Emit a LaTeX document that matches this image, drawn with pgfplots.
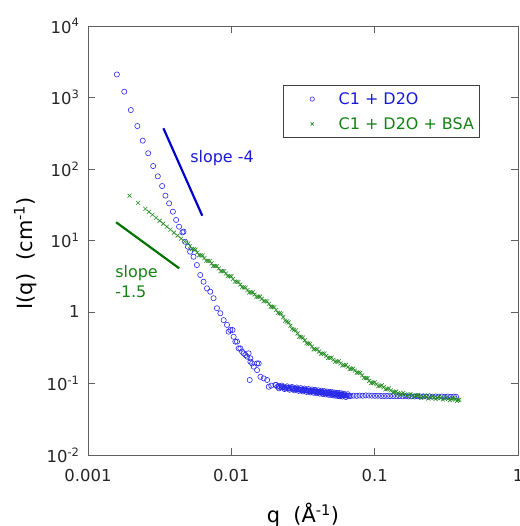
\documentclass[border=0pt]{standalone}
\usepackage{pgfplots}
\pgfplotsset{compat=1.18}
\usepackage{fontspec}
\setmainfont{DejaVu Sans}
\definecolor{cblue}{RGB}{40,40,235}
\definecolor{tblue}{RGB}{25,25,215}
\definecolor{lblue}{RGB}{0,0,205}
\definecolor{cgreen}{RGB}{35,140,35}
\definecolor{tgreen}{RGB}{20,130,20}
\definecolor{lgreen}{RGB}{0,115,0}
\definecolor{axgray}{RGB}{95,95,95}
\begin{document}
\begin{tikzpicture}
\path[use as bounding box] (-88bp,-71bp) rectangle (432bp,455bp);
\begin{axis}[
  at={(0,0)}, anchor=south west,
  scale only axis, width=430bp, height=429bp,
  xmode=log, ymode=log,
  xmin=0.001, xmax=1, ymin=0.01, ymax=10000,
  axis line style={axgray, line width=0.9pt},
  tick style={axgray, line width=0.8pt},
  major tick length=7bp,
  tick align=inside,
  xtick={0.001,0.01,0.1,1},
  xticklabels={0.001,0.01,0.1,1},
  ytick={0.01,0.1,1,10,100,1000,10000},
  yticklabels={10\textsuperscript{-2},10\textsuperscript{-1},1,10\textsuperscript{1},10\textsuperscript{2},10\textsuperscript{3},10\textsuperscript{4}},
  xminorticks=false, yminorticks=false,
  ticklabel style={font=\fontsize{16.5}{19}\selectfont, black!85},
  xticklabel style={yshift=-11bp},
  yticklabel style={xshift=-5bp},
  xlabel={q\ \ (Å\textsuperscript{-1})},
  ylabel={I(q)\ \ (cm\textsuperscript{-1})},
  label style={font=\fontsize{21}{24}\selectfont, black},
  xlabel style={at={(axis description cs:0.5,-0.14)}, anchor=center},
  ylabel style={at={(axis description cs:-0.146,0.47)}, anchor=center},
  legend style={at={(rel axis cs:0.453,0.862)}, anchor=north west,
    draw=black!75, line width=0.9pt, font=\fontsize{16}{19}\selectfont,
    inner xsep=5bp, inner ysep=7bp, row sep=12bp,
    nodes={inner sep=0.5bp, text depth=0pt}},
  legend cell align=left,
  legend image code/.code={\path[draw=none] (0bp,0bp) -- (50bp,0bp); \draw[#1, mark size=2.2bp] plot coordinates {(24bp,0bp)};},
]
\addplot[only marks, mark=o, cblue, mark size=2.6bp, line width=0.6pt]
  coordinates {
(0.00159,2100) (0.00179,1206) (0.00199,668) (0.00221,399) (0.00241,249)
(0.00263,166) (0.00285,110) (0.00307,79) (0.00329,57.8) (0.00347,42.4)
(0.00368,33.1) (0.00391,25.3) (0.00412,19.4) (0.00432,15.6) (0.00456,13.0)
(0.00464,13.3) (0.00476,9.62) (0.00498,8.2) (0.00516,6.97) (0.00545,5.93)
(0.00575,4.54) (0.00607,3.29) (0.00640,2.65) (0.00676,2.14) (0.00713,1.92)
(0.00752,1.56) (0.00794,1.13) (0.00838,0.96) (0.00884,0.77) (0.00933,0.66)
(0.00957,0.53) (0.00984,0.56) (0.0102,0.56) (0.01038,0.45) (0.01067,0.385)
(0.01096,0.385) (0.01125,0.31) (0.01156,0.31) (0.01188,0.279) (0.01219,0.264)
(0.01253,0.25) (0.01288,0.237) (0.01320,0.264) (0.01358,0.202) (0.01358,0.225)
(0.01396,0.191) (0.01433,0.172) (0.01512,0.191) (0.01512,0.154) (0.01552,0.191)
(0.01343,0.112) (0.01596,0.124) (0.01683,0.118) (0.01778,0.112) (0.01824,0.090)
(0.0190,0.0935) (0.0203,0.0953) (0.0210,0.0905) (0.0215,0.0920) (0.0220,0.0890)
(0.0226,0.0885) (0.0230,0.0895) (0.0235,0.0870) (0.0240,0.0880) (0.0245,0.0858)
(0.0250,0.0865) (0.0255,0.0850) (0.0260,0.0862) (0.0266,0.0857) (0.0270,0.0842)
(0.0275,0.0848) (0.0280,0.0830) (0.0285,0.0838) (0.0290,0.0822) (0.0295,0.0832)
(0.0300,0.0825) (0.0305,0.0812) (0.0310,0.0822) (0.0315,0.0805) (0.0320,0.0815)
(0.0325,0.0800) (0.0330,0.0808) (0.0335,0.0795) (0.0340,0.0802) (0.0345,0.0788)
(0.0350,0.0793) (0.0356,0.0782) (0.0362,0.0790) (0.0368,0.0776) (0.0374,0.0782)
(0.0380,0.0770) (0.0386,0.0777) (0.0393,0.0763) (0.0400,0.0766) (0.0407,0.0758)
(0.0414,0.0765) (0.0421,0.0752) (0.0428,0.0757) (0.0435,0.0745) (0.0442,0.0750)
(0.0450,0.0743) (0.0458,0.0736) (0.0466,0.0742) (0.0474,0.0731) (0.0482,0.0736)
(0.0490,0.0725) (0.0500,0.0723) (0.0510,0.0718) (0.0520,0.0713) (0.0530,0.0715)
(0.0540,0.0706) (0.0550,0.0705) (0.0560,0.0700) (0.0570,0.0698) (0.0580,0.0693)
(0.0590,0.0692) (0.0600,0.0689) (0.0612,0.0683) (0.0625,0.0684) (0.0637,0.0678)
(0.0650,0.0675) (0.0665,0.0672) (0.0680,0.0668)
(0.0205,0.0957) (0.0215,0.0855) (0.0225,0.0935) (0.0235,0.0836) (0.0245,0.0914)
(0.0255,0.0818) (0.0265,0.0896) (0.0275,0.0803) (0.0285,0.0879) (0.0295,0.0788)
(0.0305,0.0863) (0.0315,0.0774) (0.0325,0.0849) (0.0335,0.0762) (0.0345,0.0836)
(0.0355,0.0751) (0.0365,0.0824) (0.0375,0.0740) (0.0385,0.0813) (0.0395,0.0731)
(0.0405,0.0802) (0.0415,0.0721) (0.0425,0.0793) (0.0435,0.0713) (0.0445,0.0782)
(0.0455,0.0704) (0.0465,0.0774) (0.0475,0.0696) (0.0485,0.0765) (0.0495,0.0689)
(0.0505,0.0757) (0.0515,0.0682) (0.0525,0.0750) (0.0535,0.0675) (0.0545,0.0742)
(0.0555,0.0669) (0.0565,0.0736) (0.0575,0.0663) (0.0585,0.0730) (0.0595,0.0657)
(0.0610,0.0720) (0.0630,0.0647) (0.0650,0.0709)
(0.0714,0.0676) (0.0750,0.0672) (0.0787,0.0678) (0.0826,0.0674) (0.0868,0.0682)
(0.0911,0.0679) (0.0957,0.0676) (0.1005,0.0672) (0.1055,0.0675) (0.1108,0.0670)
(0.1163,0.0668) (0.1221,0.0671) (0.1282,0.0666) (0.1346,0.0668) (0.1414,0.0664)
(0.1484,0.0667) (0.1559,0.0662) (0.1637,0.0665) (0.1718,0.0660) (0.1804,0.0663)
(0.1895,0.0659) (0.1989,0.0664) (0.2089,0.0658) (0.2193,0.0662) (0.2303,0.0657)
(0.2418,0.0661) (0.2539,0.0655) (0.2666,0.0659) (0.2799,0.0654) (0.2939,0.0658)
(0.3086,0.0653) (0.3240,0.0657) (0.3402,0.0652) (0.3572,0.0655) (0.3700,0.0653)
  };
\addlegendentry{\textcolor{tblue}{C1 + D2O}}
\addplot[only marks, mark=x, cgreen, mark size=2.8bp, line width=0.6pt]
  coordinates {
(0.00195,42.3) (0.002239,33.6) (0.002512,27.7) (0.002661,25.2) (0.002818,22.9)
(0.002985,20.8) (0.003162,18.9) (0.00335,17.2) (0.003548,15.6) (0.003758,14.2)
(0.003981,12.9) (0.004217,11.72) (0.004467,10.64) (0.004732,9.68)
(0.005012,9.12) (0.005309,7.61) (0.005623,7.45) (0.005957,6.21) (0.006310,6.16)
(0.006683,5.21) (0.007079,5.19) (0.007499,4.40) (0.007943,4.40) (0.008414,3.73)
(0.008913,3.73) (0.009441,3.18) (0.010000,3.16) (0.010593,2.66) (0.011220,2.63)
(0.011885,2.22) (0.012589,2.19) (0.013335,1.87) (0.014125,1.89) (0.014962,1.63)
(0.015849,1.64) (0.016788,1.42) (0.017783,1.41) (0.018836,1.19) (0.019953,1.17)
(0.021135,0.975) (0.022387,0.944) (0.023714,0.757) (0.025119,0.713) (0.026607,0.577)
(0.028184,0.553) (0.029854,0.451) (0.031623,0.439) (0.033497,0.366) (0.035481,0.359)
(0.037584,0.300) (0.039811,0.302) (0.042170,0.260) (0.044668,0.263) (0.047315,0.227)
(0.050119,0.230) (0.053088,0.201) (0.056234,0.205) (0.059566,0.179) (0.063096,0.182)
(0.066834,0.159) (0.070795,0.162) (0.074989,0.142) (0.079433,0.141) (0.084140,0.120)
(0.089125,0.119) (0.094406,0.101) (0.1000,0.104) (0.10593,0.0915) (0.11220,0.0944)
(0.11885,0.0828) (0.12589,0.0853) (0.13335,0.0751) (0.14125,0.0773) (0.14962,0.0692)
(0.15849,0.0738) (0.16788,0.0670) (0.17783,0.0713) (0.18836,0.0648) (0.19953,0.0691)
(0.21135,0.0627) (0.22387,0.0674) (0.23714,0.0617) (0.25119,0.0664) (0.26607,0.0609)
(0.28184,0.0653) (0.29854,0.0597) (0.31623,0.0640) (0.33497,0.0584) (0.35481,0.0625)
(0.37584,0.0570) (0.38905,0.0590)
(0.005158,8.34) (0.005464,7.53) (0.005787,6.81) (0.006131,6.19) (0.006494,5.67)
(0.006878,5.21) (0.007286,4.78) (0.007718,4.40) (0.008175,4.06) (0.008660,3.74)
(0.009173,3.45) (0.009717,3.17) (0.010292,2.90) (0.010903,2.65) (0.011548,2.42)
(0.012232,2.21) (0.012957,2.03) (0.013724,1.88) (0.014537,1.76) (0.015399,1.64)
(0.016312,1.53) (0.017278,1.42) (0.018302,1.30) (0.019386,1.18) (0.020536,1.07)
(0.021752,0.962) (0.023040,0.848) (0.024406,0.736) (0.025853,0.643) (0.027383,0.566)
(0.029008,0.501) (0.030726,0.446) (0.032546,0.401) (0.034475,0.363) (0.036517,0.328)
(0.038681,0.301) (0.040973,0.280) (0.043402,0.262) (0.045972,0.244) (0.048697,0.228)
(0.051581,0.215) (0.054638,0.203) (0.057873,0.191) (0.061304,0.180) (0.064937,0.170)
(0.068785,0.161) (0.072860,0.152) (0.077178,0.142) (0.081752,0.130) (0.086596,0.119)
(0.091724,0.109) (0.097163,0.1025) (0.10292,0.0976) (0.10902,0.0930) (0.11548,0.0885)
(0.12232,0.0841) (0.12957,0.0801) (0.13724,0.0762) (0.14537,0.0732) (0.15399,0.0715)
(0.16312,0.0704) (0.17278,0.0692) (0.18302,0.0680) (0.19386,0.0669) (0.20536,0.0658)
(0.21752,0.0650) (0.23040,0.0645) (0.24406,0.0640) (0.25853,0.0636) (0.27383,0.0631)
(0.29008,0.0625) (0.30726,0.0618) (0.32546,0.0611) (0.34475,0.0604) (0.36517,0.0597)
(0.3800,0.0592)
  };
\addlegendentry{\textcolor{tgreen}{C1 + D2O + BSA}}
\addplot[lblue, line width=2.2pt, no marks, forget plot] coordinates {(0.00336,371) (0.00627,22.2)};
\addplot[lgreen, line width=2.2pt, no marks, forget plot] coordinates {(0.00157,18.0) (0.00433,4.08)};
\node[anchor=west, tblue, font=\fontsize{16}{19}\selectfont, inner sep=0pt] at (axis cs:0.00516,142) {slope -4};
\node[anchor=west, tgreen, font=\fontsize{16}{20}\selectfont, align=left, inner sep=0pt] at (axis cs:0.001545,2.63) {slope\\-1.5};
\end{axis}
\end{tikzpicture}
\end{document}
